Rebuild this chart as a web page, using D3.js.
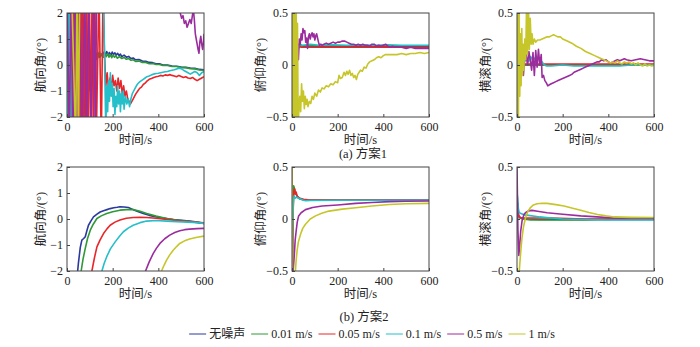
<!DOCTYPE html>
<html>
<head>
<meta charset="utf-8">
<script src="https://cdn.jsdelivr.net/npm/d3@7"></script>
<style>
  body { margin: 0; background: #fff; }
</style>
</head>
<body>
<div id="chart"></div>
<script>
// legend names, one per noise level
const seriesNames = ["无噪声", "0.01 m/s", "0.05 m/s", "0.1 m/s", "0.5 m/s", "1 m/s"];
const colors = ["#2b3a9e", "#2e9a36", "#e8262a", "#25bfc9", "#9b2c9e", "#c6c62a"];

const xTicks = [0, 200, 400, 600];
const headingTicks = [-2, -1, 0, 1, 2];
const angleTicks = [-0.5, 0, 0.5];

// scheme 1 heading, [time, value] per series
const headingA = [
  [[0,3],[4,-3],[8,3],[12,-3],[16,3],[20,-3],[26,3],[32,-3],[38,3],[44,-3],[50,2.5],[56,-3],[62,1],[66,-2.5],[70,0.5],[74,-2.2],[78,-0.2],[84,-1.8],[90,0.1],[96,-1.0],[102,0.3],[108,-0.4],[114,0.35],[120,0.1],[126,0.4],[132,0.2],[138,0.45],[144,0.3],[150,0.42],[156,0.35],[162,0.5],[168,0.38],[174,0.52],[180,0.4],[186,0.48],[192,0.36],[198,0.5],[204,0.4],[210,0.47],[216,0.38],[222,0.45],[228,0.36],[234,0.42],[240,0.32],[250,0.38],[260,0.3],[270,0.33],[280,0.25],[290,0.27],[300,0.2],[315,0.21],[330,0.15],[345,0.14],[360,0.1],[375,0.09],[390,0.05],[405,0.05],[420,0.0],[440,0.0],[460,-0.04],[480,-0.05],[500,-0.08],[520,-0.09],[540,-0.12],[560,-0.13],[580,-0.17],[600,-0.18]],
  [[0,-3],[5,3],[10,-3],[15,3],[22,-3],[28,3],[34,-3],[40,3],[46,-3],[52,2],[58,-2.5],[64,0.6],[70,-1.2],[76,-0.3],[82,0.1],[88,-0.4],[94,0.2],[100,0.0],[106,0.3],[112,0.15],[118,0.4],[124,0.25],[130,0.45],[136,0.3],[142,0.5],[148,0.35],[154,0.42],[160,0.3],[166,0.45],[172,0.32],[178,0.44],[184,0.3],[190,0.4],[196,0.28],[202,0.38],[208,0.3],[214,0.36],[220,0.26],[230,0.32],[240,0.25],[250,0.29],[260,0.22],[270,0.25],[280,0.18],[290,0.2],[300,0.14],[315,0.15],[330,0.1],[345,0.1],[360,0.05],[375,0.06],[390,0.02],[405,0.02],[420,-0.02],[440,-0.02],[460,-0.06],[480,-0.06],[500,-0.1],[520,-0.1],[540,-0.14],[560,-0.15],[580,-0.19],[600,-0.2]],
  [[0,3],[3,-3],[6,3],[9,-3],[12,3],[15,-3],[18,3],[21,-3],[24,3],[27,-3],[30,3],[33,-3],[36,3],[39,-3],[42,3],[45,-3],[48,3],[51,-3],[54,3],[57,-3],[60,3],[63,-3],[66,3],[70,-3],[75,3],[80,-3],[86,3],[92,-3],[98,3],[104,-3],[110,3],[116,-3],[122,3],[128,-3],[140,3],[150,-3],[158,3],[164,0.5],[170,-0.8],[176,-0.3],[182,-1.0],[188,-0.5],[194,-0.9],[200,-0.4],[206,-0.8],[212,-0.6],[218,-1.0],[224,-0.5],[230,-0.9],[236,-0.6],[242,-1.1],[248,-0.8],[254,-1.2],[260,-1.0],[266,-1.3],[272,-1.4],[278,-1.5],[284,-1.4],[290,-1.3],[296,-1.2],[302,-1.1],[310,-1.0],[318,-0.9],[326,-0.85],[334,-0.75],[342,-0.7],[350,-0.62],[360,-0.55],[370,-0.52],[380,-0.48],[390,-0.45],[400,-0.43],[410,-0.4],[420,-0.42],[430,-0.38],[440,-0.4],[450,-0.37],[460,-0.4],[470,-0.42],[480,-0.45],[490,-0.4],[500,-0.44],[510,-0.48],[520,-0.45],[530,-0.5],[540,-0.52],[550,-0.48],[560,-0.55],[570,-0.6],[580,-0.55],[590,-0.5],[600,-0.45]],
  [[0,-3],[2,3],[5,-3],[8,3],[11,-3],[14,3],[17,-3],[20,3],[150,3],[158,3],[162,1.5],[166,-0.5],[170,-2.5],[174,-0.8],[178,-1.8],[182,-0.6],[186,-1.4],[190,-0.3],[194,-1.2],[198,-0.7],[202,-1.6],[206,-0.9],[210,-1.9],[214,-1.2],[218,-1.6],[222,-0.8],[226,-1.5],[230,-1.0],[234,-1.8],[238,-1.1],[242,-1.5],[246,-1.0],[250,-1.7],[256,-1.2],[262,-1.5],[268,-1.3],[274,-1.6],[280,-1.3],[286,-1.1],[292,-1.0],[298,-0.9],[304,-0.8],[310,-0.72],[318,-0.65],[326,-0.6],[334,-0.55],[342,-0.5],[350,-0.45],[360,-0.42],[370,-0.38],[380,-0.35],[390,-0.33],[400,-0.32],[410,-0.3],[420,-0.28],[430,-0.26],[440,-0.25],[450,-0.22],[460,-0.2],[470,-0.18],[480,-0.15],[490,-0.12],[500,-0.14],[510,-0.2],[520,-0.25],[530,-0.3],[540,-0.35],[550,-0.3],[560,-0.25],[570,-0.3],[580,-0.4],[590,-0.3],[600,-0.25]],
  [[0,3],[10,-3],[18,3],[26,-3],[34,3],[45,-3],[55,3],[65,-3],[78,3],[85,-3],[95,3],[105,-3],[118,3],[124,-3],[130,3],[490,3],[496,2.0],[502,1.8],[508,1.9],[514,1.6],[520,1.7],[526,1.45],[532,1.6],[538,1.75],[544,1.6],[550,1.95],[554,2.1],[558,1.7],[562,1.2],[566,1.0],[570,0.8],[574,0.6],[578,0.45],[582,0.9],[586,1.1],[590,0.8],[594,0.6],[598,0.9],[600,1.2]],
  [[0,3],[20,3],[38,-3],[44,3],[50,-3],[56,3],[600,3]]
];

// scheme 1 pitch
const pitchA = [
  [[0,-0.6],[3,0.4],[6,0.05],[10,0.3],[15,0.12],[20,0.22],[28,0.16],[36,0.19],[50,0.18],[100,0.18],[200,0.18],[300,0.18],[400,0.18],[500,0.18],[600,0.18]],
  [[0,0.6],[3,-0.3],[6,0.35],[10,0.1],[15,0.24],[20,0.16],[28,0.2],[36,0.18],[50,0.185],[150,0.185],[300,0.185],[450,0.185],[600,0.185]],
  [[0,-0.6],[2,0.6],[5,-0.6],[8,0.6],[11,0.0],[15,0.25],[20,0.12],[30,0.19],[40,0.17],[100,0.17],[200,0.172],[300,0.17],[400,0.172],[500,0.17],[600,0.17]],
  [[0,0.3],[4,-0.2],[8,0.35],[12,0.1],[18,0.22],[25,0.15],[35,0.2],[45,0.19],[80,0.2],[120,0.19],[180,0.195],[240,0.19],[300,0.195],[360,0.19],[420,0.195],[480,0.19],[540,0.19],[600,0.19]],
  [[0,-0.6],[5,0.5],[10,-0.3],[15,0.1],[20,0.02],[24,0.15],[28,0.05],[32,0.25],[36,0.2],[40,0.3],[44,0.24],[48,0.35],[52,0.31],[56,0.33],[60,0.22],[64,0.26],[68,0.16],[72,0.27],[76,0.3],[80,0.25],[84,0.29],[88,0.31],[92,0.27],[96,0.3],[100,0.24],[104,0.28],[108,0.3],[112,0.26],[116,0.22],[120,0.19],[126,0.2],[132,0.19],[140,0.2],[150,0.21],[160,0.2],[170,0.21],[180,0.22],[190,0.21],[200,0.22],[210,0.22],[220,0.23],[230,0.23],[240,0.22],[250,0.21],[260,0.2],[270,0.2],[280,0.19],[290,0.2],[300,0.19],[310,0.2],[320,0.19],[330,0.19],[340,0.18],[350,0.2],[360,0.2],[370,0.18],[380,0.19],[390,0.18],[400,0.19],[410,0.2],[420,0.18],[430,0.17],[440,0.18],[450,0.17],[460,0.17],[480,0.17],[500,0.16],[520,0.17],[540,0.16],[560,0.16],[580,0.16],[600,0.16]],
  [[0,0.6],[3,-0.6],[6,0.6],[9,-0.6],[12,0.6],[15,-0.6],[18,0.6],[21,-0.6],[24,0.4],[27,-0.55],[30,-0.45],[34,-0.3],[38,-0.45],[42,-0.18],[46,-0.35],[50,-0.25],[54,-0.42],[58,-0.3],[62,-0.38],[66,-0.33],[70,-0.4],[76,-0.35],[82,-0.37],[88,-0.3],[94,-0.33],[100,-0.27],[108,-0.3],[116,-0.24],[124,-0.26],[132,-0.22],[140,-0.23],[150,-0.2],[160,-0.21],[170,-0.18],[180,-0.19],[190,-0.16],[200,-0.17],[206,-0.1],[212,-0.13],[220,-0.12],[228,-0.07],[234,-0.1],[240,-0.06],[246,-0.09],[252,-0.05],[258,-0.1],[264,-0.08],[270,-0.12],[276,-0.1],[282,-0.14],[288,-0.09],[294,-0.07],[300,-0.05],[308,-0.06],[316,-0.02],[324,-0.03],[332,0.01],[340,0.03],[350,0.04],[360,0.05],[370,0.07],[380,0.08],[390,0.07],[400,0.09],[410,0.1],[420,0.1],[430,0.1],[440,0.1],[460,0.1],[480,0.11],[500,0.1],[520,0.11],[540,0.11],[560,0.12],[580,0.11],[600,0.12]]
];

// scheme 1 roll
const rollA = [
  [[0,-0.6],[3,0.1],[6,0.0],[10,0.02],[20,0.0],[100,0.0],[300,0.0],[600,0.0]],
  [[0,0.3],[3,-0.1],[6,0.05],[10,0.0],[100,0.0],[300,0.0],[600,0.0]],
  [[0,-0.6],[3,0.15],[6,0.1],[10,0.15],[14,0.02],[20,0.01],[100,0.01],[250,0.01],[400,0.01],[600,0.01]],
  [[0,0.3],[3,0.1],[6,0.3],[10,0.05],[20,0.05],[30,0.02],[40,0.06],[50,0.03],[60,0.08],[70,0.04],[80,0.07],[90,0.05],[100,0.06],[110,0.03],[120,0.0],[130,-0.01],[150,-0.01],[200,0.0],[250,-0.01],[300,-0.01],[350,-0.01],[400,-0.01],[450,-0.01],[500,0.0],[550,0.0],[600,0.0]],
  [[0,0.0],[10,0.0],[16,-0.05],[22,0.02],[28,-0.1],[34,0.08],[40,0.1],[46,0.0],[52,0.13],[58,0.05],[64,-0.05],[70,0.12],[76,-0.1],[82,0.14],[88,-0.02],[94,0.15],[100,0.0],[106,0.1],[110,-0.12],[116,-0.1],[122,-0.15],[128,-0.17],[135,-0.2],[142,-0.19],[150,-0.18],[160,-0.17],[170,-0.16],[180,-0.15],[190,-0.14],[200,-0.13],[210,-0.12],[220,-0.11],[230,-0.1],[240,-0.09],[250,-0.07],[260,-0.06],[270,-0.05],[280,-0.04],[290,-0.03],[300,-0.02],[310,-0.01],[320,0.0],[330,0.01],[340,0.02],[350,0.03],[360,0.03],[370,0.05],[380,0.04],[390,0.05],[400,0.03],[410,0.02],[420,0.03],[430,0.04],[440,0.05],[450,0.04],[460,0.05],[470,0.06],[480,0.05],[500,0.04],[520,0.05],[540,0.06],[560,0.05],[580,0.04],[600,0.04]],
  [[0,-0.6],[3,0.6],[6,-0.6],[9,0.6],[12,-0.3],[15,0.3],[18,-0.2],[21,0.35],[24,-0.1],[27,0.2],[30,-0.05],[34,0.25],[38,0.05],[42,0.6],[46,0.1],[50,0.6],[54,0.15],[58,0.45],[62,0.2],[66,0.3],[70,0.2],[76,0.25],[82,0.22],[90,0.24],[100,0.24],[110,0.25],[120,0.26],[130,0.27],[140,0.27],[150,0.28],[160,0.29],[170,0.28],[180,0.27],[190,0.27],[200,0.25],[220,0.23],[240,0.21],[260,0.18],[280,0.16],[300,0.13],[320,0.11],[340,0.09],[360,0.07],[380,0.05],[400,0.03],[410,0.02],[420,0.03],[430,0.02],[440,0.04],[450,0.02],[460,0.01],[470,0.03],[480,0.02],[490,0.03],[500,0.01],[510,0.02],[520,0.0],[530,0.02],[540,0.0],[550,-0.01],[560,0.01],[570,-0.01],[580,0.0],[590,-0.01],[600,0.0]]
];

// scheme 2 heading
const headingB = [
  [[40,-2.6],[50,-1.7],[58,-1.1],[65,-0.81],[73,-0.75],[80,-0.68],[87,-0.45],[94,-0.24],[105,-0.07],[116,0.08],[130,0.18],[145,0.27],[160,0.32],[175,0.36],[189,0.4],[205,0.43],[220,0.45],[232,0.47],[250,0.46],[269,0.44],[290,0.36],[310,0.29],[334,0.21],[360,0.14],[392,0.08],[430,0.03],[465,-0.02],[500,-0.05],[537,-0.08],[570,-0.12],[600,-0.17]],
  [[55,-2.6],[62,-2],[70,-1.55],[80,-1.13],[90,-0.75],[102,-0.43],[115,-0.2],[131,0.02],[150,0.12],[174,0.21],[200,0.28],[232,0.34],[260,0.36],[290,0.36],[320,0.3],[349,0.21],[390,0.11],[436,0.02],[480,-0.04],[530,-0.09],[570,-0.13],[600,-0.17]],
  [[100,-2.6],[109,-2],[120,-1.5],[131,-1.07],[145,-0.8],[160,-0.56],[175,-0.38],[189,-0.24],[210,-0.12],[232,-0.04],[260,0.03],[290,0.06],[320,0.07],[349,0.06],[390,0.03],[436,-0.02],[480,-0.06],[530,-0.1],[570,-0.13],[600,-0.15]],
  [[145,-2.6],[153,-2],[163,-1.7],[174,-1.45],[190,-1.15],[211,-0.88],[230,-0.66],[247,-0.49],[268,-0.35],[290,-0.24],[320,-0.14],[349,-0.08],[390,-0.06],[436,-0.08],[480,-0.1],[530,-0.12],[570,-0.14],[600,-0.17]],
  [[335,-2.6],[344,-2],[360,-1.65],[378,-1.32],[392,-1.12],[407,-0.94],[428,-0.76],[450,-0.62],[472,-0.52],[494,-0.45],[515,-0.41],[537,-0.39],[570,-0.37],[600,-0.36]],
  [[405,-2.6],[414,-2],[425,-1.78],[436,-1.58],[450,-1.38],[465,-1.2],[480,-1.06],[494,-0.94],[515,-0.84],[537,-0.77],[570,-0.7],[600,-0.66]]
];

// scheme 2 pitch
const pitchB = [
  [[0,-0.6],[3,0.1],[6,0.28],[9,0.3],[12,0.27],[18,0.24],[25,0.21],[35,0.195],[50,0.185],[80,0.18],[600,0.18]],
  [[0,-0.6],[4,0.2],[7,0.32],[10,0.3],[14,0.26],[20,0.23],[28,0.2],[40,0.19],[60,0.182],[600,0.18]],
  [[0,0.5],[2,-0.6],[5,0.1],[8,0.27],[11,0.29],[14,0.24],[18,0.26],[22,0.22],[28,0.21],[35,0.2],[50,0.19],[70,0.185],[600,0.18]],
  [[0,-0.6],[3,-0.1],[6,0.15],[9,0.22],[14,0.2],[20,0.21],[30,0.2],[40,0.19],[50,0.18],[60,0.175],[80,0.178],[200,0.18],[600,0.18]],
  [[0,-0.6],[5,-0.5],[10,-0.35],[14,-0.2],[18,-0.12],[23,-0.03],[29,0.03],[40,0.06],[59,0.09],[90,0.11],[132,0.125],[200,0.135],[279,0.15],[350,0.158],[426,0.167],[500,0.17],[600,0.173]],
  [[0,0.6],[2,-0.6],[10,-0.6],[15,-0.5],[18,-0.4],[22,-0.31],[28,-0.22],[37,-0.15],[47,-0.09],[59,-0.05],[80,0.0],[103,0.03],[130,0.055],[162,0.076],[220,0.095],[279,0.108],[350,0.125],[426,0.14],[500,0.147],[600,0.15]]
];

// scheme 2 roll
const rollB = [
  [[0,0.1],[3,0.07],[6,0.04],[10,0.02],[20,0.01],[40,0.0],[100,-0.005],[200,-0.005],[600,-0.005]],
  [[0,0.2],[3,0.08],[6,0.03],[12,0.01],[25,0.0],[60,-0.01],[150,-0.01],[300,-0.01],[450,0.0],[600,0.0]],
  [[0,0.12],[3,0.15],[6,0.05],[10,0.02],[20,0.01],[60,0.01],[150,0.01],[300,0.0],[600,0.0]],
  [[0,0.25],[3,0.2],[6,0.1],[10,0.06],[20,0.05],[30,0.04],[50,0.035],[100,0.02],[150,0.01],[200,0.0],[300,-0.005],[400,-0.01],[600,-0.01]],
  [[0,0.5],[4,-0.1],[8,-0.35],[12,-0.25],[16,-0.12],[22,-0.02],[30,0.04],[37,0.06],[50,0.078],[66,0.083],[90,0.075],[132,0.06],[200,0.045],[279,0.03],[350,0.02],[426,0.01],[500,0.01],[600,0.01]],
  [[0,-0.6],[10,-0.5],[14,-0.38],[18,-0.27],[22,-0.18],[28,-0.08],[37,0.01],[47,0.07],[59,0.11],[72,0.135],[88,0.147],[110,0.152],[132,0.15],[170,0.138],[206,0.125],[240,0.105],[279,0.085],[315,0.063],[353,0.043],[390,0.03],[426,0.02],[500,0.016],[600,0.015]]
];

const panels = [
  { data: headingA, yDomain: [-2, 2], yTicks: headingTicks, label: "航向角/(°)", col: 0, row: 0 },
  { data: pitchA, yDomain: [-0.5, 0.5], yTicks: angleTicks, label: "俯仰角/(°)", col: 1, row: 0 },
  { data: rollA, yDomain: [-0.5, 0.5], yTicks: angleTicks, label: "横滚角/(°)", col: 2, row: 0 },
  { data: headingB, yDomain: [-2, 2], yTicks: headingTicks, label: "航向角/(°)", col: 0, row: 1 },
  { data: pitchB, yDomain: [-0.5, 0.5], yTicks: angleTicks, label: "俯仰角/(°)", col: 1, row: 1 },
  { data: rollB, yDomain: [-0.5, 0.5], yTicks: angleTicks, label: "横滚角/(°)", col: 2, row: 1 }
];

const width = 700, height = 347;
const fontFam = '"Liberation Serif", "Times New Roman", "Noto Sans CJK SC", serif';
const colLeft = [67, 292, 517];   // plot box left edges
const rowTop = [13, 167];         // plot box top edges
const pw = 137, ph = 104;

const svg = d3.select("#chart")
  .append("svg")
  .attr("width", width)
  .attr("height", height)
  .style("font-family", fontFam);

const fmt = v => String(v).replace("-", "\u2212");

panels.forEach((p, i) => {
  const x0 = colLeft[p.col], y0 = rowTop[p.row];
  const g = svg.append("g").attr("transform", `translate(${x0},${y0})`);

  const x = d3.scaleLinear().domain([0, 600]).range([0, pw]);
  const y = d3.scaleLinear().domain(p.yDomain).range([ph, 0]);

  g.append("clipPath").attr("id", "clip" + i)
    .append("rect").attr("width", pw).attr("height", ph);

  const line = d3.line().x(d => x(d[0])).y(d => y(d[1]));

  g.append("g")
    .attr("clip-path", `url(#clip${i})`)
    .selectAll("path")
    .data(p.data)
    .join("path")
    .attr("d", line)
    .attr("fill", "none")
    .attr("stroke", (d, k) => colors[k])
    .attr("stroke-width", 1.6)
    .attr("stroke-linejoin", "round");

  // axes with inward ticks
  const xa = g.append("g").attr("transform", `translate(0,${ph})`)
    .call(d3.axisBottom(x).tickValues(xTicks).tickSizeInner(-3).tickSizeOuter(0).tickPadding(5).tickFormat(fmt));
  const ya = g.append("g")
    .call(d3.axisLeft(y).tickValues(p.yTicks).tickSizeInner(-3).tickSizeOuter(0).tickPadding(4).tickFormat(fmt));
  [xa, ya].forEach(a => {
    a.attr("font-family", fontFam).attr("font-size", 12);
    a.select(".domain").remove();
    a.selectAll("line").attr("stroke", "#444");
    a.selectAll("text").attr("fill", "#222");
  });

  g.append("rect")
    .attr("width", pw).attr("height", ph)
    .attr("fill", "none").attr("stroke", "#444").attr("stroke-width", 1);

  g.append("text")
    .attr("x", pw / 2).attr("y", ph + 27)
    .attr("text-anchor", "middle")
    .attr("font-size", 12.5).attr("fill", "#222")
    .text("时间/s");

  const lx = p.col === 0 ? -25 : -30;
  g.append("text")
    .attr("transform", `translate(${lx},${ph / 2}) rotate(-90)`)
    .attr("text-anchor", "middle")
    .attr("dominant-baseline", "middle")
    .attr("font-size", 12.5).attr("fill", "#222")
    .text(p.label);
});

// sub captions
svg.append("text").attr("x", 363).attr("y", 158).attr("text-anchor", "middle")
  .attr("font-size", 12.5).attr("fill", "#222").text("(a) 方案1");
svg.append("text").attr("x", 364).attr("y", 321).attr("text-anchor", "middle")
  .attr("font-size", 12.5).attr("fill", "#222").text("(b) 方案2");

// legend, laid out from measured text widths
const legend = svg.append("g");
let lxPos = 0;
seriesNames.forEach((name, k) => {
  const item = legend.append("g").attr("transform", `translate(${lxPos},0)`);
  item.append("line").attr("x1", 0).attr("x2", 17).attr("y1", 0).attr("y2", 0)
    .attr("stroke", colors[k]).attr("stroke-width", 1);
  const t = item.append("text").attr("x", 20).attr("y", 4)
    .attr("font-size", 12).attr("fill", "#222").text(name);
  lxPos += 20 + t.node().getComputedTextLength() + 6;
});
const legendW = lxPos - 6;
legend.attr("transform", `translate(${372 - legendW / 2},334)`);
</script>
</body>
</html>
